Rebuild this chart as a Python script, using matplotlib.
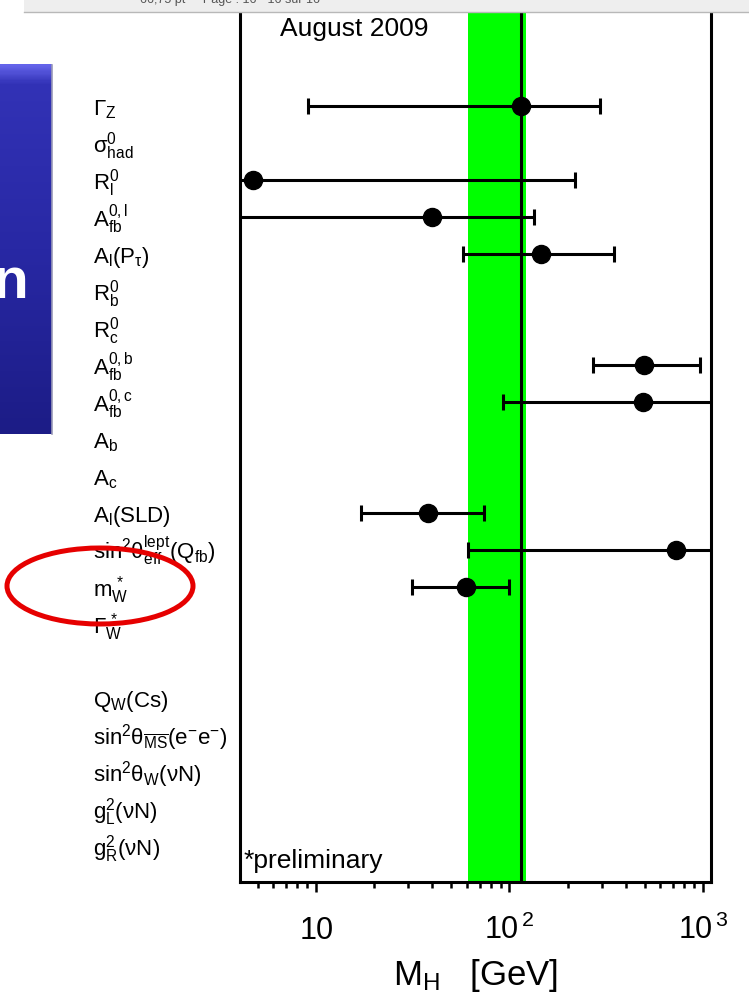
import numpy as np
import matplotlib.pyplot as plt
from matplotlib.patches import Ellipse, Rectangle
from matplotlib.ticker import NullFormatter, LogLocator
from matplotlib.transforms import blended_transform_factory

plt.rcParams['font.family'] = ['Liberation Sans', 'DejaVu Sans']
plt.rcParams['mathtext.fontset'] = 'custom'
plt.rcParams['mathtext.rm'] = 'Liberation Sans'
plt.rcParams['mathtext.it'] = 'Liberation Sans:italic'
plt.rcParams['mathtext.bf'] = 'Liberation Sans:bold'

nan = np.nan

# observables, top to bottom ('' = empty row)
labels = [
    'Γ$_{\\rm Z}$',
    'σ$^{\\rm 0}_{\\rm had}$',
    'R$^{\\rm 0}_{\\rm l}$',
    'A$^{\\rm 0,l}_{\\rm fb}$',
    'A$_{\\rm l}$(P$_{\\rm τ}$)',
    'R$^{\\rm 0}_{\\rm b}$',
    'R$^{\\rm 0}_{\\rm c}$',
    'A$^{\\rm 0,b}_{\\rm fb}$',
    'A$^{\\rm 0,c}_{\\rm fb}$',
    'A$_{\\rm b}$',
    'A$_{\\rm c}$',
    'A$_{\\rm l}$(SLD)',
    'sin$^{\\rm 2}$θ$^{\\rm lept}_{\\rm eff}$(Q$_{\\rm fb}$)',
    'm$_{\\rm W}^{\\,*}$',
    'Γ$_{\\rm W}^{\\,*}$',
    '',
    'Q$_{\\rm W}$(Cs)',
    'sin$^{\\rm 2}$θ$_{\\overline{\\rm MS}}$(e$^{-}$e$^{-}$)',
    'sin$^{\\rm 2}$θ$_{\\rm W}$(νN)',
    'g$^{\\rm 2}_{\\rm L}$(νN)',
    'g$^{\\rm 2}_{\\rm R}$(νN)',
]

# Higgs mass preferred by each observable [GeV], with 1-sigma range
mh_val = [114.7, nan, 4.7, 39.8, 145.5, nan, nan, 495.6, 489.8, nan, nan,
          37.9, 725.0, 59.6, nan, nan, nan, nan, nan, nan, nan]
mh_lo = [9.1, nan, 1.0, 1.0, 57.5, nan, nan, 270.0, 92.6, nan, nan,
         17.1, 61.0, 31.2, nan, nan, nan, nan, nan, nan, nan]
mh_hi = [293.7, nan, 218.0, 133.9, 346.7, nan, nan, 965.0, 3000.0, nan, nan,
         73.8, 3000.0, 99.4, nan, nan, nan, nan, nan, nan, nan]

band_lo, band_hi = 61.0, 122.0
lep_limit = 114.4

tick_vals = [10, 100, 1000]
tick_labels = ['$\\mathregular{10}$', '$\\mathregular{10^{\\,2}}$', '$\\mathregular{10^{\\,3}}$']

fig = plt.figure(figsize=(7.49, 9.95), dpi=100)
ax = fig.add_axes([240 / 749, 112 / 995, 471 / 749, 869 / 995])

rows = np.arange(len(labels))
val = np.array(mh_val)
lo = np.array(mh_lo)
hi = np.array(mh_hi)
m = ~np.isnan(val)

ax.axvspan(band_lo, band_hi, color='#00ff00', lw=0, zorder=0)
ax.axvline(lep_limit, color='k', lw=2.2, zorder=1)
ax.errorbar(val[m], rows[m], xerr=[val[m] - lo[m], hi[m] - val[m]], fmt='o',
            color='k', ms=13, lw=2.2, capsize=6, capthick=2.2, zorder=3)

ax.set_xscale('log')
ax.set_xlim(4.05, 1100)
ax.set_ylim(20.97, -2.51)
ax.set_yticks([])
ax.set_xticks(tick_vals)
ax.set_xticklabels(tick_labels)
ax.xaxis.set_minor_locator(LogLocator(base=10, subs=np.arange(2, 10)))
ax.xaxis.set_minor_formatter(NullFormatter())
ax.tick_params(axis='x', which='major', direction='out', length=7, width=1.8,
               labelsize=22, pad=33)
ax.tick_params(axis='x', which='minor', direction='out', length=4.5, width=1.8)
plt.setp(ax.get_xticklabels(), va='baseline')
for side in ['left', 'right', 'bottom']:
    ax.spines[side].set_linewidth(2.2)
ax.spines['top'].set_visible(False)

ax.set_xlabel('M$_{\\rm H}$   [GeV]', fontsize=25)
ax.xaxis.set_label_coords(0.5, -0.085)

trans = blended_transform_factory(ax.transAxes, ax.transData)
for i, lab in enumerate(labels):
    ax.text(-0.312, i + 0.22, lab, transform=trans, ha='left', va='baseline',
            fontsize=16, clip_on=False)

ax.text(0.085, 0.975, 'August 2009', transform=ax.transAxes, fontsize=19,
        ha='left', va='baseline')
ax.text(0.008, 0.017, '*preliminary', transform=ax.transAxes, fontsize=19,
        ha='left', va='baseline')

# slide decorations around the plot (pixel coordinates)
ov = fig.add_axes([0, 0, 1, 1], zorder=5)
ov.set_xlim(0, 749)
ov.set_ylim(995, 0)
ov.axis('off')
ov.patch.set_alpha(0)

ov.add_patch(Rectangle((24, 0), 725, 13, facecolor='#eeeeee', edgecolor='none'))
ov.plot([24, 749], [13, 13], color='#b8b8b8', lw=1)
ov.text(140, 0, '66,75 pt     Page : 16 - 16 sur 16', fontsize=9,
        color='#555555', va='center', ha='left')

grad = np.linspace(0, 1, 300)[:, None]
blue = plt.matplotlib.colors.LinearSegmentedColormap.from_list(
    'slide', [(0, '#6464ea'), (0.05, '#3232b6'), (0.5, '#2828a4'), (1, '#1c1c86')])
ov.imshow(grad, cmap=blue, extent=[0, 52, 435, 65], aspect='auto')
ov.plot([52, 52], [66, 435], color='#9a9ab8', lw=1.2)
ov.text(29, 283, 'n', color='white', fontsize=42, fontweight='bold',
        ha='right', va='center')

ov.add_patch(Ellipse((100, 587), 186, 76, fill=False, edgecolor='#e60000', lw=3.6))

fig.savefig('out.png', dpi=100)
